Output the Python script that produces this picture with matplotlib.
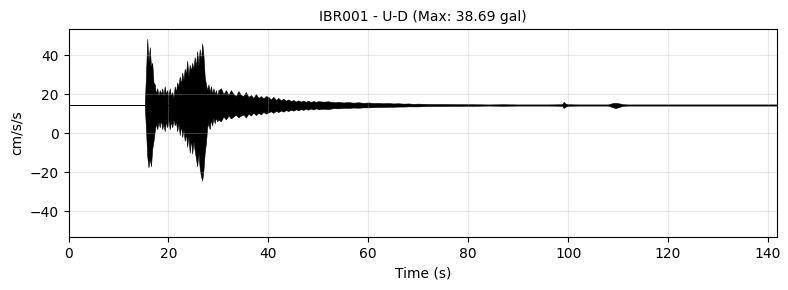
import numpy as np
import matplotlib
matplotlib.use("Agg")
import matplotlib.pyplot as plt

title = "IBR001 - U-D (Max: 38.69 gal)"
x_label = "Time (s)"
y_label = "cm/s/s"
baseline = 14.4
t_end = 141.8
y_lim = 53.2

# Envelope of the trace (absolute values, cm/s/s)
t_a = [0.0, 15.0, 15.25, 15.5, 15.75, 16.0, 16.25, 16.5, 16.75, 17.0, 17.25,
       17.5, 17.75, 18.0, 18.25, 18.5, 18.75, 19.0, 19.25, 19.5, 19.75,
       20.0, 20.25, 20.5, 20.75, 21.0, 21.25, 21.5, 21.75, 22.0, 22.25,
       22.5, 22.75, 23.0, 23.25, 23.5, 23.75, 24.0, 24.25, 24.5, 24.75,
       25.0, 25.25, 25.5, 25.75, 26.0, 26.25, 26.5, 26.75, 27.0, 27.25,
       27.5, 27.75, 28.0, 28.25, 28.5, 28.75, 29.0, 29.25, 29.5, 29.75, 30.0]
hi_a = [14.4, 14.4, 14.5, 30, 48.3, 36, 44, 34, 36, 26, 25,
        20, 23, 19, 22, 20, 23, 19, 24, 20, 22,
        19, 23, 19, 21, 18, 24, 21, 26, 24, 29,
        25, 31, 27, 33, 30, 37, 29, 35, 32, 36,
        33, 39, 34, 42, 35, 43, 37, 46, 40, 29,
        25, 22, 25, 21, 24, 20, 23, 20, 22, 19, 22]
lo_a = [14.4, 14.4, 14.3, 2, -12, -17.5, -13, -17, -8, -4, 1,
        5, 2, 6, 3, 7, 2, 5, 1, 6, 3,
        7, 2, 6, 3, 7, 4, 6, 1, 5, -1,
        4, -2, 2, -4, 0, -7, -1, -10, -3, -10.5,
        -4, -9, -13, -17, -10, -18, -22, -24.29, -19, -10,
        -5, 3, 5, 2, 7, 4, 8, 5, 8, 6, 7]

t_b = [30.5, 31.0, 31.5, 32.0, 32.5, 33.0, 33.5, 34.0, 34.5, 35.0,
       35.5, 36.0, 36.5, 37.0, 37.5, 38.0, 38.5, 39.0, 39.5, 40.0,
       40.5, 41.0, 41.5, 42.0, 42.5, 43.0, 43.5, 44.0, 44.5, 45.0,
       45.5, 46.0, 46.5, 47.0, 47.5, 48.0, 48.5, 49.0, 49.5, 50.0,
       51.0, 52.0, 53.0, 54.0, 55.0, 56.0, 57.0, 58.0, 59.0, 60.0,
       61.0, 62.0, 63.0, 64.0, 65.0, 66.0, 67.0, 68.0, 69.0, 70.0]
hi_b = [23, 20, 22, 19.5, 22, 20, 19, 21.5, 19.5, 19,
        21, 18.5, 19.5, 18, 20, 18, 19, 17.8, 19, 18.5,
        17.2, 18.6, 17, 18, 16.8, 17.6, 16.6, 17.3, 16.4, 17,
        16.2, 16.8, 16.1, 16.7, 16, 16.6, 15.9, 16.5, 15.9, 16.4,
        16.1, 16.3, 15.8, 16, 15.7, 15.9, 15.6, 15.8, 15.5, 15.7,
        15.4, 15.5, 15.3, 15.4, 15.2, 15.3, 15.1, 15.2, 15.0, 15.1]
lo_b = [6, 8.5, 7, 9, 7.5, 8.5, 9.5, 8, 9, 9.5,
        8, 10, 9, 10.5, 9.2, 10.4, 9.6, 10.8, 10, 10.6,
        11.2, 10.4, 11.4, 10.8, 11.6, 11, 11.8, 11.3, 12, 11.5,
        12.2, 11.7, 12.3, 11.9, 12.5, 12, 12.6, 12.1, 12.7, 12.3,
        12.5, 12.3, 12.8, 12.7, 13, 12.9, 13.1, 13, 13.2, 13.2,
        13.3, 13.4, 13.4, 13.5, 13.5, 13.6, 13.6, 13.7, 13.7, 13.7]

t_c = [72, 75, 78, 81, 84, 87, 90, 93, 96, 98.8, 99.1, 99.5, 100, 102,
       104, 106, 108, 108.8, 109.5, 110.3, 111, 112, 115, 120, 125, 130,
       135, 140, 141.8]
hi_c = [14.9, 14.9, 14.8, 14.8, 14.7, 14.8, 14.7, 14.7, 14.7, 14.8, 16.0,
        15.1, 14.8, 14.7, 14.7, 14.7, 14.7, 15.3, 15.5, 15.2, 14.8, 14.7,
        14.7, 14.7, 14.7, 14.7, 14.7, 14.7, 14.7]
lo_c = [13.9, 13.9, 14.0, 14.0, 14.1, 14.0, 14.1, 14.1, 14.1, 14.0, 12.9,
        13.6, 14.0, 14.1, 14.1, 14.1, 14.1, 13.4, 12.8, 13.5, 14.0, 14.1,
        14.1, 14.1, 14.1, 14.1, 14.1, 14.1, 14.1]

t_all = np.array(t_a + t_b + t_c)
hi_all = np.array(hi_a + hi_b + hi_c)
lo_all = np.array(lo_a + lo_b + lo_c)

fig = plt.figure(figsize=(7.88, 2.90), dpi=100)
ax = fig.add_axes([0.087, 0.183, 0.899, 0.716])
ax.fill_between(t_all, lo_all, hi_all, color="black", linewidth=0.4,
                edgecolor="black")
ax.axhline(baseline, color="black", linewidth=0.5)
ax.set_xlim(0, t_end)
ax.set_ylim(-y_lim, y_lim)
ax.set_yticks([-40, -20, 0, 20, 40])
ax.set_xticks([0, 20, 40, 60, 80, 100, 120, 140])
ax.grid(True, alpha=0.3)
ax.set_xlabel(x_label)
ax.set_ylabel(y_label)
ax.set_title(title, fontsize=10)
fig.savefig("out.png", dpi=100)
